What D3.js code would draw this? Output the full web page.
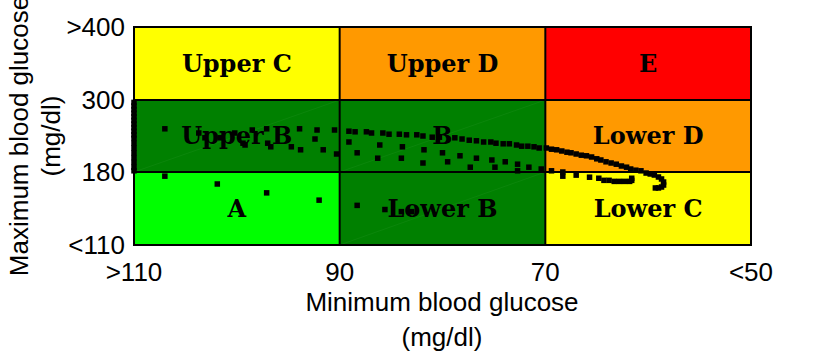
<!DOCTYPE html>
<html lang="en">
<head>
    <meta charset="UTF-8">
    <title>CVGA</title>
    <script src="https://cdn.jsdelivr.net/npm/d3@7"></script>
</head>
<style>
    body { margin: 0; background: #fff; }
    svg { display: block; }
</style>
<body>
    <div id="graphDiv"></div>
    <script>
        // Axis ticks (mg/dl), x axis runs from high to low
        var xTicks = [110, 90, 70, 50]
        var xTickLabels = [">110", "90", "70", "<50"]
        var yTicks = [110, 180, 300, 400]
        var yTickLabels = ["<110", "180", "300", ">400"]

        // Zone grid, rows top to bottom, columns left to right
        var zoneLabels = [
            ["Upper C", "Upper D", "E"],
            ["Upper B", "B", "Lower D"],
            ["A", "Lower B", "Lower C"]
        ]
        var zoneColours = [
            ["#ffff00", "#ff9900", "#ff0000"],
            ["#008000", "#008000", "#ff9900"],
            ["#00ff00", "#008000", "#ffff00"]
        ]

        // Patient points: minimum and maximum blood glucose (mg/dl)
        var minBG = [
            115, 115, 115, 115, 115, 115, 115, 115, 115, 115, 115, 115, 115, 115, 115, 115, 115, 115,
            107.0, 103.7, 103.1, 101.6, 100.2, 99.4, 98.5, 97.1, 93.9, 92.2, 90.5, 89.1, 88.5, 87.4,
            86.9, 85.8, 85.2, 84.2, 83.5, 82.5, 81.9, 81.0, 80.3, 78.8, 78.1, 77.4, 76.7, 76.0,
            75.3, 74.8, 74.1, 73.5, 72.8, 72.3, 71.7, 71.1, 70.6, 69.9,
            69.4, 68.9, 68.4, 67.9, 67.5, 67.0, 66.5, 66.0, 65.5, 65.0, 64.6, 64.1, 63.6, 63.1,
            62.6, 62.1, 61.7, 61.2, 60.7, 60.2, 59.8, 59.4, 59.0, 58.7, 58.5, 58.5, 58.7, 59.0, 59.3,
            99.2, 97.0, 96.7, 94.7, 93.8, 92.4, 91.6, 90.3, 89.1, 88.3, 86.3, 86.1, 84.0, 83.9,
            81.9, 81.8, 80.0, 79.5, 78.3, 77.3, 76.7, 75.2, 74.9, 73.9, 72.7, 72.7, 71.6, 70.4,
            69.4, 68.3, 68.3, 67.0, 65.7, 64.8, 64.3, 63.8, 63.3, 62.8, 62.3, 61.8, 61.6, 61.6,
            107.0, 101.9, 97.1, 92.0, 88.3, 85.6, 84.0, 83.0
        ]
        var maxBG = [
            296, 290, 284, 278, 272, 266, 260, 254, 248, 242, 236, 228, 220, 212, 204, 196, 188, 182,
            252, 245, 237, 237, 245, 228, 250, 252, 252, 250, 250, 248, 247, 247,
            245, 245, 243, 243, 242, 242, 240, 238, 238, 237, 235, 233, 232, 230,
            230, 228, 227, 227, 225, 223, 223, 222, 220, 220,
            218, 217, 215, 213, 212, 210, 208, 207, 205, 202, 200, 197, 195, 193,
            190, 188, 185, 183, 182, 179, 178.1, 177.1, 175.2, 173.3, 170.4, 167.5, 165.6, 164.7, 164.7,
            225, 228, 222, 222, 217, 235, 217, 210, 230, 212, 203, 225, 203, 222,
            195, 217, 212, 197, 207, 188, 203, 200, 188, 197, 193, 182, 188, 185,
            182, 180, 176, 177, 175, 174, 172, 172, 171, 171, 171, 171, 172, 174,
            176, 168.5, 160, 153, 148, 144, 142, 142
        ]

        var width = 830
        var height = 352

        var svg = d3.select('#graphDiv')
            .append('svg')
            .attr('width', width)
            .attr('height', height)

        var x = d3.scaleLinear().domain([110, 50]).range([134, 751]).clamp(true)
        var y = d3.scaleLinear().domain(yTicks).range([245, 172, 100, 27]).clamp(true)

        // Zone cells
        var cells = []
        zoneLabels.forEach((row, r) => {
            row.forEach((label, c) => {
                cells.push({
                    label: label,
                    colour: zoneColours[r][c],
                    x0: x(xTicks[c]), x1: x(xTicks[c + 1]),
                    y0: y(yTicks[3 - r]), y1: y(yTicks[2 - r])
                })
            })
        })

        var cellG = svg.append('g')
        cellG.selectAll('rect')
            .data(cells)
            .enter()
            .append('rect')
            .attr('x', d => d.x0)
            .attr('y', d => d.y0)
            .attr('width', d => d.x1 - d.x0)
            .attr('height', d => d.y1 - d.y0)
            .attr('fill', d => d.colour)

        // faint patch seams seen in the dark green cells
        cellG.selectAll('line.seam')
            .data(cells.filter(d => d.colour == "#008000"))
            .enter()
            .append('line')
            .attr('x1', d => d.x0).attr('y1', d => d.y1)
            .attr('x2', d => d.x1).attr('y2', d => d.y0)
            .attr('stroke', '#128a12')
            .attr('stroke-width', 0.6)

        cellG.selectAll('text')
            .data(cells)
            .enter()
            .append('text')
            .attr('x', d => (d.x0 + d.x1) / 2)
            .attr('y', d => (d.y0 + d.y1) / 2 + 8)
            .attr('text-anchor', 'middle')
            .attr('font-family', 'DejaVu Serif')
            .attr('font-weight', 'bold')
            .attr('font-size', 24)
            .text(d => d.label)

        // Grid lines and frame
        var gridG = svg.append('g').attr('stroke', '#000').attr('stroke-width', 2)
        gridG.selectAll('line.v')
            .data(xTicks)
            .enter()
            .append('line')
            .attr('x1', d => x(d)).attr('x2', d => x(d))
            .attr('y1', y(400)).attr('y2', y(110))
        gridG.selectAll('line.h')
            .data(yTicks)
            .enter()
            .append('line')
            .attr('y1', d => y(d)).attr('y2', d => y(d))
            .attr('x1', x(110) - 1).attr('x2', x(50) + 1)

        // Points
        var pts = minBG.map((m, i) => ({ min: m, max: maxBG[i] }))
        svg.append('g')
            .selectAll('rect')
            .data(pts)
            .enter()
            .append('rect')
            .attr('x', d => x(d.min) - 2.75)
            .attr('y', d => y(d.max) - 2.75)
            .attr('width', 5.5)
            .attr('height', 5.5)
            .attr('fill', '#000')

        // Tick labels
        var font = 'Liberation Sans, Arial, sans-serif'
        svg.append('g')
            .selectAll('text')
            .data(xTicks)
            .enter()
            .append('text')
            .attr('x', d => x(d))
            .attr('y', 281)
            .attr('text-anchor', 'middle')
            .attr('font-family', font)
            .attr('font-size', 26)
            .text((d, i) => xTickLabels[i])

        svg.append('g')
            .selectAll('text')
            .data(yTicks)
            .enter()
            .append('text')
            .attr('x', 125)
            .attr('y', d => y(d) + 9)
            .attr('text-anchor', 'end')
            .attr('font-family', font)
            .attr('font-size', 26)
            .text((d, i) => yTickLabels[i])

        // Axis titles
        var xTitle = svg.append('text')
            .attr('text-anchor', 'middle')
            .attr('font-family', font)
            .attr('font-size', 26)
        xTitle.append('tspan').attr('x', 442).attr('y', 311).text('Minimum blood glucose')
        xTitle.append('tspan').attr('x', 442).attr('y', 346).text('(mg/dl)')

        var yTitle = svg.append('text')
            .attr('text-anchor', 'middle')
            .attr('font-family', font)
            .attr('font-size', 26)
            .attr('transform', 'translate(0,136) rotate(-90)')
        yTitle.append('tspan').attr('x', 0).attr('y', 28).text('Maximum blood glucose')
        yTitle.append('tspan').attr('x', 0).attr('y', 60).text('(mg/dl)')
    </script>
</body>
</html>
